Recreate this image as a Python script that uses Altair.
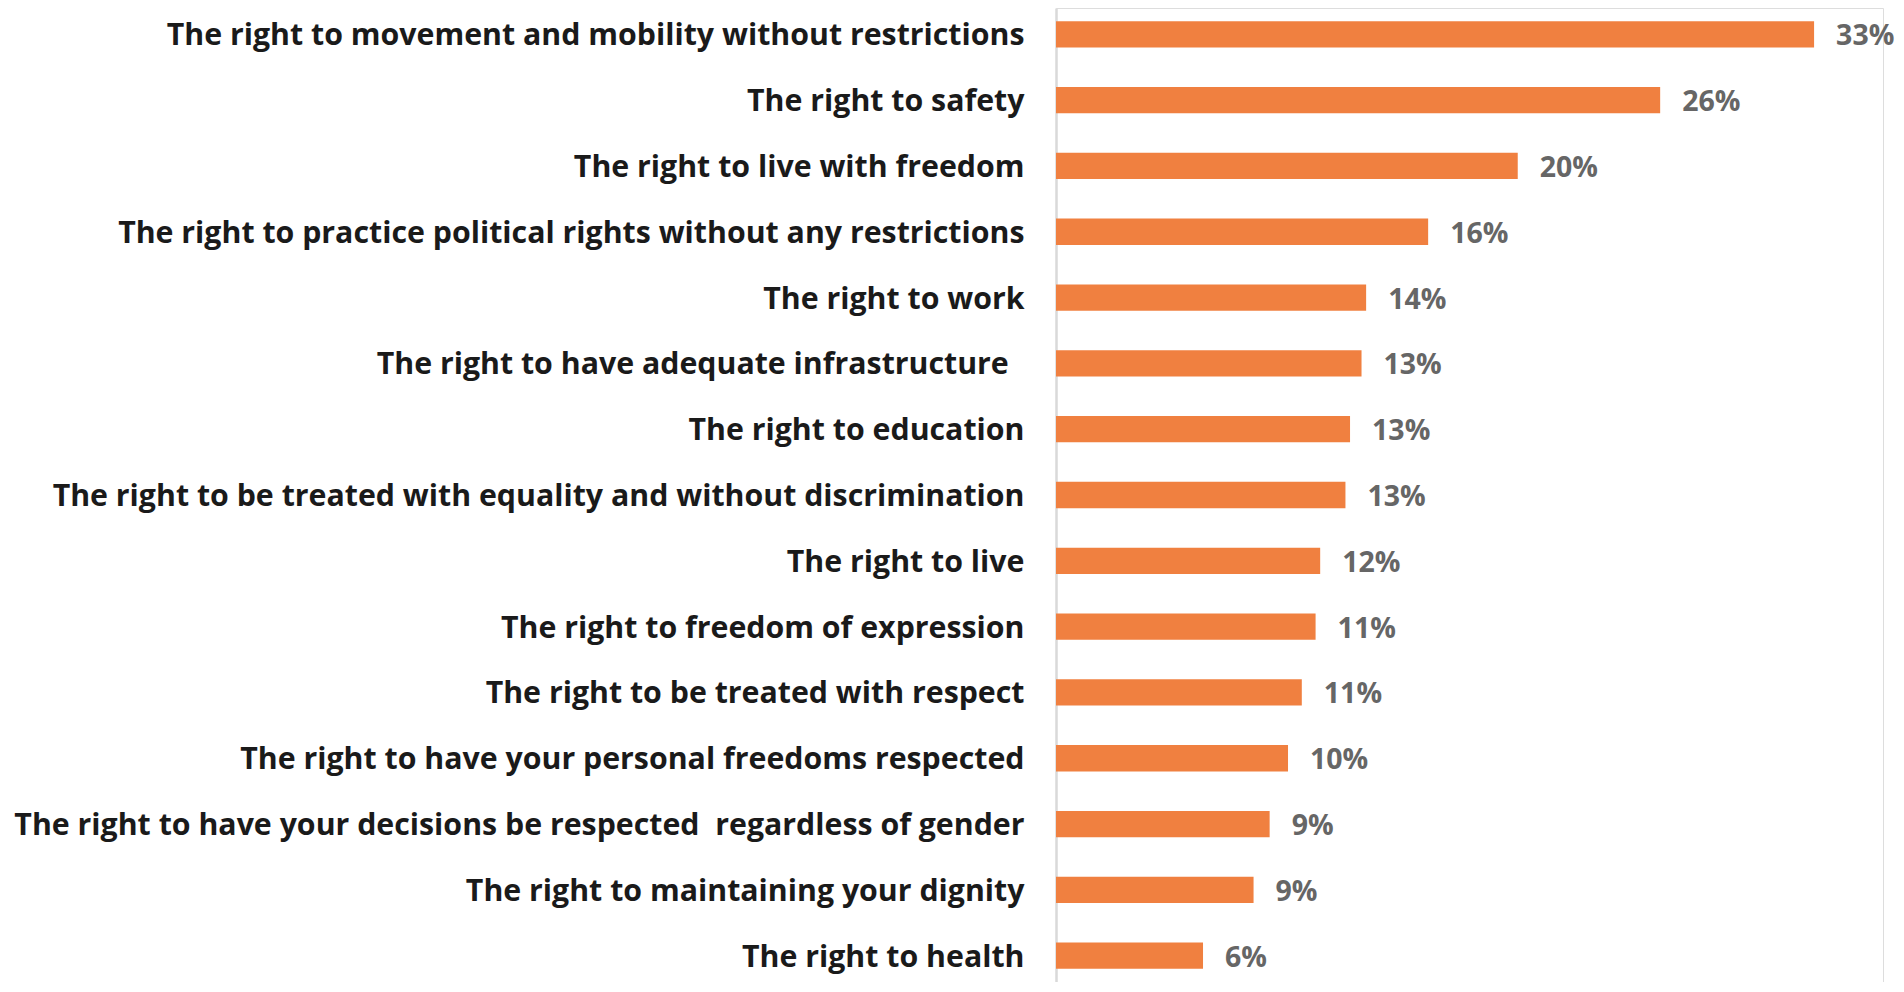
import altair as alt
import pandas as pd

categories = [
    "The right to movement and mobility without restrictions",
    "The right to safety",
    "The right to live with freedom",
    "The right to practice political rights without any restrictions",
    "The right to work",
    "The right to have adequate infrastructure\u00a0\u00a0\u200b",
    "The right to education",
    "The right to be treated with equality and without discrimination",
    "The right to live",
    "The right to freedom of expression",
    "The right to be treated with respect",
    "The right to have your personal freedoms respected",
    "The right to have your decisions be respected\u00a0\u00a0regardless of gender",
    "The right to maintaining your dignity",
    "The right to health",
]
values = [33.0, 26.3, 20.1, 16.2, 13.5, 13.3, 12.8, 12.6, 11.5, 11.3, 10.7, 10.1, 9.3, 8.6, 6.4]
labels = ["33%", "26%", "20%", "16%", "14%", "13%", "13%", "13%", "12%", "11%", "11%", "10%", "9%", "9%", "6%"]

df = pd.DataFrame({"category": categories, "value": values, "label": labels})

FONT = "Open Sans"

y_enc = alt.Y(
    "category:N",
    sort=categories,
    title=None,
    scale=alt.Scale(paddingInner=0.6, paddingOuter=0.2),
    axis=alt.Axis(
        ticks=False,
        domain=True,
        domainColor="#d9d9d9",
        domainWidth=2.5,
        grid=False,
        labelFont=FONT,
        labelFontWeight="bold",
        labelFontSize=30.3,
        labelColor="#1a1a1a",
        labelPadding=32,
        labelLimit=1100,
        labelOffset=2,
    ),
)
x_enc = alt.X("value:Q", scale=alt.Scale(domain=[0, 36], nice=False, zero=True), axis=None)

base = alt.Chart(df).encode(y=y_enc, x=x_enc)

bars = base.mark_bar(color="#F08040")
text = base.mark_text(
    align="left",
    baseline="middle",
    dx=22,
    dy=2,
    font=FONT,
    fontWeight="bold",
    fontSize=28.5,
    color="#666666",
).encode(text="label:N")

chart = (
    alt.layer(bars, text)
    .properties(
        width=827,
        height=974,
        autosize=alt.AutoSizeParams(type="none"),
        padding={"left": 1048, "top": 0, "right": 13, "bottom": 0},
    )
    .configure_view(stroke="transparent", strokeWidth=0)
    .configure(background="white")
)

chart.save("out.html", embed_options={"renderer": "svg", "actions": False})
